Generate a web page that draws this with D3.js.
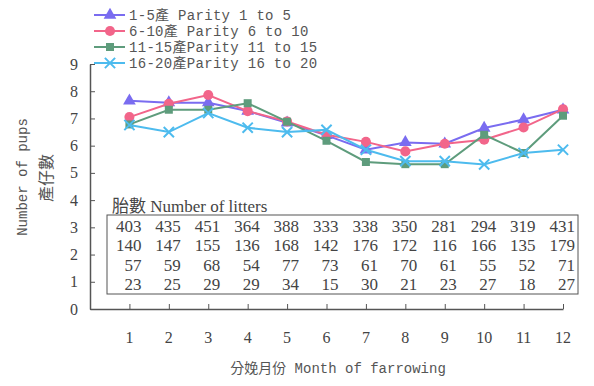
<!DOCTYPE html>
<meta charset="utf-8">
<style>
html, body { margin: 0; background: #fff; }
svg { display: block; }
.mono { font-family: "Liberation Mono", "Noto Sans CJK TC", monospace; font-size: 14px; fill: #555; }
.serif { font-family: "Liberation Serif", "Noto Sans CJK TC", serif; fill: #444; }
.axis line, .axis path { stroke: #555; }
</style>
<svg id="chart"></svg>
<script src="https://cdn.jsdelivr.net/npm/d3@7/dist/d3.min.js"></script>
<script>

var width = 594;
var height = 386;

var months = [1, 2, 3, 4, 5, 6, 7, 8, 9, 10, 11, 12];
var yTicks = [0, 1, 2, 3, 4, 5, 6, 7, 8, 9];

var seriesNames = ['1-5產 Parity 1 to 5', '6-10產 Parity 6 to 10', '11-15產Parity 11 to 15', '16-20產Parity 16 to 20'];
var parity1 = [7.65, 7.58, 7.58, 7.27, 6.84, 6.38, 5.85, 6.12, 6.07, 6.65, 6.96, 7.32];
var parity6 = [7.05, 7.54, 7.86, 7.27, 6.89, 6.40, 6.14, 5.79, 6.07, 6.22, 6.67, 7.34];
var parity11 = [6.78, 7.32, 7.32, 7.56, 6.88, 6.18, 5.40, 5.32, 5.32, 6.40, 5.73, 7.10];
var parity16 = [6.76, 6.50, 7.20, 6.66, 6.50, 6.58, 5.85, 5.43, 5.43, 5.31, 5.73, 5.85];

var litters1 = [403, 435, 451, 364, 388, 333, 338, 350, 281, 294, 319, 431];
var litters6 = [140, 147, 155, 136, 168, 142, 176, 172, 116, 166, 135, 179];
var litters11 = [57, 59, 68, 54, 77, 73, 61, 70, 61, 55, 52, 71];
var litters16 = [23, 25, 29, 29, 34, 15, 30, 21, 23, 27, 18, 27];

var colors = ['#7a6cf0', '#f2658a', '#5e9c7c', '#4dbbee'];
var symbols = [d3.symbolTriangle, d3.symbolCircle, d3.symbolSquare, d3.symbolX];

var series = [parity1, parity6, parity11, parity16];
var litters = [litters1, litters6, litters11, litters16];

var svg = d3.select('#chart')
  .attr('width', width)
  .attr('height', height);

svg.append('rect').attr('width', width).attr('height', height).attr('fill', '#fff');

var x = d3.scaleLinear().domain([0, 12]).range([90, 563]);
var y = d3.scaleLinear().domain([0, 9]).range([309, 64]);

// Axes, ticks pointing inward
var yAxis = svg.append('g')
  .attr('class', 'axis')
  .attr('transform', 'translate(90,0)')
  .call(d3.axisRight(y).tickValues(yTicks).tickSize(5).tickSizeOuter(0).tickFormat(''));
yAxis.select('.domain').attr('stroke-width', 1.5);

var xAxis = svg.append('g')
  .attr('class', 'axis')
  .attr('transform', 'translate(0,309)')
  .call(d3.axisTop(x).tickValues(months).tickSize(5).tickSizeOuter(0).tickFormat(''));
xAxis.select('.domain').attr('stroke-width', 1.5);

svg.append('g').selectAll('text')
  .data(yTicks)
  .enter().append('text')
  .attr('class', 'serif')
  .attr('x', 78)
  .attr('y', function (d) { return y(d); })
  .attr('dy', '0.35em')
  .attr('text-anchor', 'end')
  .style('font-size', '16px')
  .text(function (d) { return d; });

svg.append('g').selectAll('text')
  .data(months)
  .enter().append('text')
  .attr('class', 'serif')
  .attr('x', function (d) { return x(d); })
  .attr('y', 337)
  .attr('dy', '0.35em')
  .attr('text-anchor', 'middle')
  .style('font-size', '16px')
  .text(function (d) { return d; });

// Axis titles
svg.append('text')
  .attr('class', 'mono')
  .attr('x', 338)
  .attr('y', 368)
  .attr('dy', '0.35em')
  .attr('text-anchor', 'middle')
  .text('分娩月份 Month of farrowing');

svg.append('text')
  .attr('class', 'mono')
  .attr('transform', 'translate(22,177) rotate(-90)')
  .attr('dy', '0.35em')
  .attr('text-anchor', 'middle')
  .text('Number of pups');

svg.append('text')
  .attr('class', 'mono')
  .attr('transform', 'translate(46,178) rotate(-90)')
  .attr('dy', '0.35em')
  .attr('text-anchor', 'middle')
  .style('font-size', '16px')
  .text('產仔數');

// Litter table
svg.append('text')
  .attr('class', 'serif')
  .attr('x', 112)
  .attr('y', 206)
  .attr('dy', '0.35em')
  .style('font-size', '17px')
  .text('胎數  Number of litters');

svg.append('rect')
  .attr('x', 107)
  .attr('y', 215)
  .attr('width', 471)
  .attr('height', 79)
  .attr('fill', 'none')
  .attr('stroke', '#555')
  .attr('stroke-width', 1);

litters.forEach(function (row, r) {
  svg.append('g').selectAll('text')
    .data(row)
    .enter().append('text')
    .attr('class', 'serif')
    .attr('x', function (d, i) { return x(months[i]) + 12; })
    .attr('y', 226 + r * 19.5)
    .attr('dy', '0.35em')
    .attr('text-anchor', 'end')
    .style('font-size', '17px')
    .text(function (d) { return d; });
});

// Lines and markers
var line = d3.line()
  .x(function (d, i) { return x(months[i]); })
  .y(function (d) { return y(d); });

var sizes = [70, 80, 64, 70];

series.forEach(function (s, k) {
  svg.append('path')
    .datum(s)
    .attr('d', line)
    .attr('fill', 'none')
    .attr('stroke', colors[k])
    .attr('stroke-width', 2);

  svg.append('g').selectAll('path')
    .data(s)
    .enter().append('path')
    .attr('transform', function (d, i) { return 'translate(' + x(months[i]) + ',' + y(d) + ')'; })
    .attr('d', d3.symbol().type(symbols[k]).size(sizes[k]))
    .attr('fill', k === 3 ? 'none' : colors[k])
    .attr('stroke', colors[k])
    .attr('stroke-width', k === 3 ? 2 : 0);
});

// Legend
var legend = svg.append('g').selectAll('g')
  .data(seriesNames)
  .enter().append('g')
  .attr('transform', function (d, i) { return 'translate(0,' + (15 + i * 16) + ')'; });

legend.append('line')
  .attr('x1', 94).attr('x2', 125)
  .attr('stroke', function (d, i) { return colors[i]; })
  .attr('stroke-width', 2);

legend.append('path')
  .attr('transform', 'translate(110,0)')
  .attr('d', function (d, i) { return d3.symbol().type(symbols[i]).size(sizes[i])(); })
  .attr('fill', function (d, i) { return i === 3 ? 'none' : colors[i]; })
  .attr('stroke', function (d, i) { return colors[i]; })
  .attr('stroke-width', function (d, i) { return i === 3 ? 2 : 0; });

legend.append('text')
  .attr('class', 'mono')
  .attr('x', 129)
  .attr('dy', '0.35em')
  .style('letter-spacing', '0.3px')
  .text(function (d) { return d; });

</script>
